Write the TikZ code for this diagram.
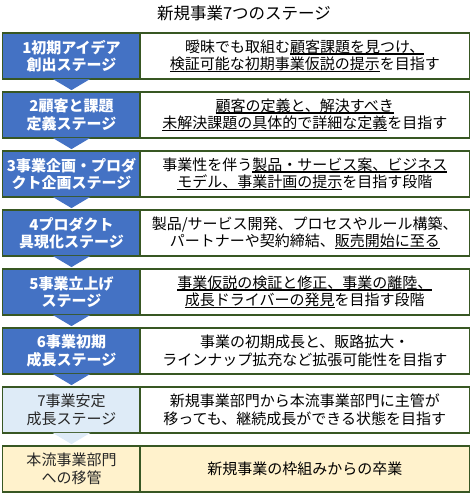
\documentclass[tikz,border=0pt]{standalone}
\usepackage{fontspec}
\setmainfont{Noto Sans CJK JP}
\usepackage{tikz}
\definecolor{stageblue}{HTML}{4472C4}
\definecolor{stagelight}{HTML}{DEEBF7}
\definecolor{stageyellow}{HTML}{FFF2CC}
\definecolor{frame}{HTML}{385723}
\tikzset{
    StageBox/.style={
        draw=frame,
        line width=1.2pt,
        fill=stageblue,
        text=white,
        font=\bfseries\fontsize{15pt}{17.5pt}\selectfont,
        minimum width=137.5pt,
        minimum height=46pt,
        inner sep=0pt,
        align=center
    }
}
\tikzset{
    LateBox/.style={
        StageBox,
        fill=stagelight,
        text=black!85,
        font=\fontsize{15pt}{17.5pt}\selectfont
    }
}
\tikzset{
    GoalBox/.style={
        draw=frame,
        line width=1.2pt,
        fill=white,
        text=black,
        font=\fontsize{15pt}{17.5pt}\selectfont,
        minimum width=329.5pt,
        minimum height=46pt,
        inner sep=0pt,
        align=center
    }
}
\newcommand{\ulmark}[1]{\setbox0\hbox{#1}\rlap{\rule[-2.6pt]{\wd0}{1.8pt}}\box0}
\newcommand{\drawStage}[4]{\node[#1] (#2) at #3 {#4}}
\newcommand{\drawDown}[2]{\fill[#2] ([xshift=-19pt,yshift=0.8pt]#1.south) -- ([xshift=19pt,yshift=0.8pt]#1.south) -- ([yshift=-10.5pt]#1.south) -- cycle}
\begin{document}
\begin{tikzpicture}[x=1pt,y=-1pt]

    \useasboundingbox (0,0) rectangle (474,498);

    \node[font=\fontsize{16.5pt}{18pt}\selectfont] (title) at (244,13) {新規事業7つのステージ};

    \drawStage{StageBox}{s1}{(71.5,56)}{1初期アイデア\\創出ステージ};
    \drawStage{GoalBox}{g1}{(304.75,56)}{曖昧でも取組む\ulmark{顧客課題を見つけ、}\\\ulmark{検証可能な初期事業仮説の提示}を目指す};

    \drawStage{StageBox}{s2}{(71.5,115)}{2顧客と課題\\定義ステージ};
    \drawStage{GoalBox}{g2}{(304.75,115)}{\ulmark{顧客の定義と、解決すべき}\\\ulmark{未解決課題の具体的で詳細な定義}を目指す};

    \drawStage{StageBox}{s3}{(71.5,174)}{3事業企画・プロダ\\クト企画ステージ};
    \drawStage{GoalBox}{g3}{(304.75,174)}{事業性を伴う\ulmark{製品・サービス案、ビジネス}\\\ulmark{モデル、事業計画の提示}を目指す段階};

    \drawStage{StageBox}{s4}{(71.5,233)}{4プロダクト\\具現化ステージ};
    \drawStage{GoalBox}{g4}{(304.75,233)}{製品/サービス開発、プロセスやルール構築、\\パートナーや契約締結、\ulmark{販売開始に至る}};

    \drawStage{StageBox}{s5}{(71.5,292)}{5事業立上げ\\ステージ};
    \drawStage{GoalBox}{g5}{(304.75,292)}{\ulmark{事業仮説の検証と修正、事業の離陸、}\\\ulmark{成長ドライバーの発見}を目指す段階};

    \drawStage{StageBox}{s6}{(71.5,351)}{6事業初期\\成長ステージ};
    \drawStage{GoalBox}{g6}{(304.75,351)}{事業の初期成長と、販路拡大・\\ラインナップ拡充など拡張可能性を目指す};

    \drawStage{LateBox}{s7}{(71.5,410)}{7事業安定\\成長ステージ};
    \drawStage{GoalBox}{g7}{(304.75,410)}{新規事業部門から本流事業部門に主管が\\移っても、継続成長ができる状態を目指す};

    \drawStage{LateBox,fill=stageyellow}{s8}{(71.5,469)}{本流事業部門\\への移管};
    \drawStage{GoalBox,fill=stageyellow}{g8}{(304.75,469)}{新規事業の枠組みからの卒業};

    \drawDown{s1}{stageblue};
    \drawDown{s2}{stageblue};
    \drawDown{s3}{stageblue};
    \drawDown{s4}{stageblue};
    \drawDown{s5}{stageblue};
    \drawDown{s6}{stageblue};
    \drawDown{s7}{stagelight};

\end{tikzpicture}
\end{document}
